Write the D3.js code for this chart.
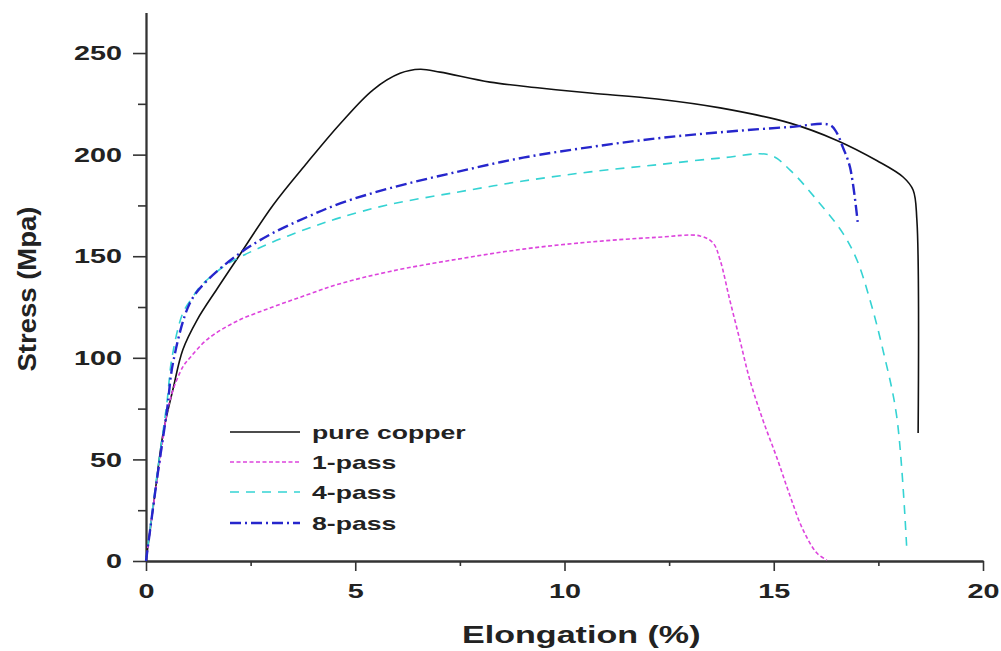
<!DOCTYPE html>
<html>
<head>
<meta charset="utf-8">
<script src="https://cdn.jsdelivr.net/npm/d3@7/dist/d3.min.js"></script>
<style>
  html, body { margin: 0; padding: 0; background: #fff; }
  svg { display: block; }
</style>
</head>
<body>
<script>
// Engineering stress-strain curves of copper after ECAP passes

const seriesNames = ["pure copper", "1-pass", "4-pass", "8-pass"];

const copperStrain = [0, 0.2, 0.41, 0.65, 0.88, 1.22, 1.7, 2.25, 3.03, 3.85, 4.64, 5.42, 6.07, 6.55, 7.03, 8.22, 9.41, 10.61, 12.21, 13.72, 15.39, 16.51, 17.47, 18.09, 18.33, 18.42, 18.45];
const copperStress = [0, 31, 63, 85, 104, 118.6, 134, 151, 175, 196, 215.2, 231.8, 240, 242, 240.6, 235.7, 232.8, 230.3, 227.4, 223, 215.5, 207, 197, 189, 182.6, 167.8, 63];

const pass1Strain = [0, 0.3, 0.57, 0.88, 1.05, 1.46, 2.17, 3.03, 3.85, 4.64, 5.83, 7.43, 9.01, 10.61, 12.21, 13.24, 13.55, 13.72, 13.95, 14.19, 14.43, 14.74, 15.08, 15.39, 15.7, 16.03, 16.27];
const pass1Stress = [0, 45, 79, 95.5, 100, 109, 118, 125, 131, 136.5, 142.5, 148.5, 153.5, 157, 159.3, 160, 156.5, 148, 128.4, 108.8, 89, 69.4, 50.5, 32, 15.3, 3.9, 0.5];

const pass4Strain = [0, 0.26, 0.5, 0.62, 0.88, 1.12, 1.29, 1.84, 2.25, 3.03, 3.85, 4.64, 5.83, 7.43, 9.01, 10.61, 12.21, 13.72, 14.91, 15.39, 16.03, 16.65, 16.99, 17.3, 17.61, 17.94, 18.18];
const pass4Stress = [0, 42, 78, 100, 122, 130, 135, 144.7, 149.6, 157, 163.5, 169, 175.5, 181.5, 187, 191.5, 195, 198.3, 199.8, 192.4, 177.7, 161.4, 148, 128.4, 103.8, 70.9, 5.4];

const pass8Strain = [0, 0.26, 0.5, 0.65, 1.05, 1.46, 2.25, 3.03, 3.85, 4.64, 5.83, 7.43, 9.01, 10.61, 12.21, 13.72, 15.39, 16.34, 16.51, 16.65, 16.82, 17.01];
const pass8Stress = [0, 40, 74, 98, 127, 138, 151.6, 161.4, 169.3, 176, 183.5, 191.5, 198.5, 203.7, 208, 211, 213.6, 214.6, 210.6, 203.7, 194, 166];

const xMajorTicks = [0, 5, 10, 15, 20];
const xMinorTicks = [2.5, 7.5, 12.5, 17.5];
const yMajorTicks = [0, 50, 100, 150, 200, 250];
const yMinorTicks = [25, 75, 125, 175, 225];

const xTitle = "Elongation (%)";
const yTitle = "Stress (Mpa)";

// ---- layout ----
const W = 1001, H = 651;
const FONT = "'Liberation Sans', Arial, Helvetica, sans-serif";
const STRETCH = 1.37;      // wide bold lettering

const svg = d3.select("body").append("svg").attr("width", W).attr("height", H);
svg.append("rect").attr("width", W).attr("height", H).attr("fill", "#fff");

const x = d3.scaleLinear().domain([0, 20]).range([146, 983]);
const y = d3.scaleLinear().domain([0, 270]).range([561, 12.4]);

const styles = [
  { color: "#111111", width: 1.6, dash: null },
  { color: "#dd44dd", width: 1.6, dash: "4,2.5" },
  { color: "#35d3d3", width: 1.6, dash: "9,7" },
  { color: "#2626cc", width: 2.4, dash: "11,4,2,4" }
];

const series = [
  { name: seriesNames[0], xs: copperStrain, ys: copperStress },
  { name: seriesNames[1], xs: pass1Strain, ys: pass1Stress },
  { name: seriesNames[2], xs: pass4Strain, ys: pass4Stress },
  { name: seriesNames[3], xs: pass8Strain, ys: pass8Stress }
].map((s, i) => Object.assign(s, styles[i], { pts: s.xs.map((v, k) => [v, s.ys[k]]) }));

// ---- axes ----
const axisColor = "#333";

function styleAxis(g) {
  g.select(".domain").attr("stroke", axisColor).attr("stroke-width", 1.8);
  g.selectAll(".tick line").attr("stroke", axisColor).attr("stroke-width", 1.6);
}

// minor ticks
svg.append("g").attr("transform", "translate(0,561)")
  .call(d3.axisBottom(x).tickValues(xMinorTicks).tickSize(5).tickFormat("").tickSizeOuter(0))
  .call(styleAxis);
svg.append("g").attr("transform", "translate(146,0)")
  .call(d3.axisLeft(y).tickValues(yMinorTicks).tickSize(8).tickFormat("").tickSizeOuter(0))
  .call(styleAxis);

// major ticks with labels
const gx = svg.append("g").attr("transform", "translate(0,561)")
  .call(d3.axisBottom(x).tickValues(xMajorTicks).tickSize(10).tickPadding(12).tickSizeOuter(0))
  .call(styleAxis);
gx.selectAll(".tick text")
  .attr("fill", "#222")
  .style("font-family", FONT).style("font-weight", "bold").style("font-size", "21px")
  .attr("transform", `scale(${STRETCH},1)`);

const gy = svg.append("g").attr("transform", "translate(146,0)")
  .call(d3.axisLeft(y).tickValues(yMajorTicks).tickSize(13).tickPadding(11).tickSizeOuter(0))
  .call(styleAxis);
gy.selectAll(".tick text")
  .attr("fill", "#222")
  .attr("x", null)
  .style("font-family", FONT).style("font-weight", "bold").style("font-size", "21px")
  .attr("transform", `translate(-24,0) scale(${STRETCH},1)`);

// axis titles
svg.append("text")
  .attr("transform", `translate(462,643) scale(1.42,1)`)
  .attr("fill", "#222")
  .style("font-family", FONT).style("font-weight", "bold").style("font-size", "24px")
  .text(xTitle);

svg.append("text")
  .attr("transform", "translate(36,289) rotate(-90) scale(1.1,1)")
  .attr("text-anchor", "middle")
  .attr("fill", "#222")
  .style("font-family", FONT).style("font-weight", "bold").style("font-size", "25px")
  .text(yTitle);

// ---- curves ----
const line = d3.line()
  .x(d => x(d[0]))
  .y(d => y(d[1]))
  .curve(d3.curveCatmullRom.alpha(0.5));

svg.append("g").selectAll("path")
  .data(series)
  .join("path")
  .attr("d", d => line(d.pts))
  .attr("fill", "none")
  .attr("stroke", d => d.color)
  .attr("stroke-width", d => d.width)
  .attr("stroke-dasharray", d => d.dash)
  .attr("stroke-linejoin", "round");

// ---- legend ----
const legendRows = [432, 462, 492, 523];
const legend = svg.append("g").selectAll("g")
  .data(series)
  .join("g")
  .attr("transform", (d, i) => `translate(0,${legendRows[i]})`);

legend.append("line")
  .attr("x1", 230).attr("x2", 300)
  .attr("stroke", d => d.color)
  .attr("stroke-width", d => d.width)
  .attr("stroke-dasharray", d => d.dash);

legend.append("text")
  .attr("transform", `translate(312,0) scale(1.4,1)`)
  .attr("dy", "0.35em")
  .attr("fill", "#222")
  .style("font-family", FONT).style("font-weight", "bold").style("font-size", "19px")
  .text(d => d.name);
</script>
</body>
</html>
